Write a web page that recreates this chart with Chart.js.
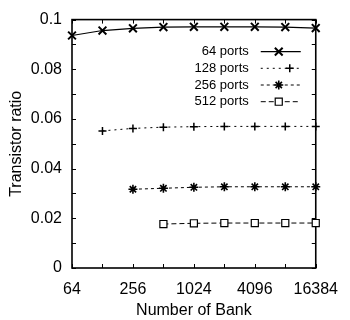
<!DOCTYPE html>
<html>
<head>
<meta charset="utf-8">
<script src="https://cdn.jsdelivr.net/npm/chart.js@4/dist/chart.umd.min.js"></script>
<style>
  html, body { margin: 0; padding: 0; background: #fff; }
  #wrap { width: 350px; height: 320px; }
</style>
</head>
<body>
<div id="wrap"><canvas id="c" width="350" height="320"></canvas></div>
<script>
// ---- data ----
const banks = [64, 128, 256, 512, 1024, 2048, 4096, 8192, 16384];
const xTickValues = [64, 256, 1024, 4096, 16384];
const seriesNames = ['64 ports', '128 ports', '256 ports', '512 ports'];
const ports64  = [0.0936, 0.0956, 0.0965, 0.0970, 0.0971, 0.0971, 0.0971, 0.0970, 0.0966];
const ports128 = [null, 0.0552, 0.0562, 0.0567, 0.0569, 0.0570, 0.0570, 0.0570, 0.0570];
const ports256 = [null, null, 0.0317, 0.0321, 0.0325, 0.0327, 0.0327, 0.0327, 0.0327];
const ports512 = [null, null, null, 0.0177, 0.0180, 0.0181, 0.0181, 0.0181, 0.0181];

const FONT = "'Liberation Sans', Arial, Helvetica, sans-serif";

function pts(arr) {
  return banks.map((b, i) => ({ x: b, y: arr[i] })).filter(p => p.y !== null);
}

const datasets = [
  { label: seriesNames[0], data: pts(ports64), borderWidth: 1.2, borderDash: [],
    pointStyle: 'crossRot', pointRadius: 5.5, pointBorderWidth: 2 },
  { label: seriesNames[1], data: pts(ports128), borderWidth: 1, borderDash: [2, 4],
    pointStyle: 'cross', pointRadius: 4, pointBorderWidth: 1.5 },
  { label: seriesNames[2], data: pts(ports256), borderWidth: 1, borderDash: [3, 3],
    pointStyle: 'star', pointRadius: 4.5, pointBorderWidth: 1.6 },
  { label: seriesNames[3], data: pts(ports512), borderWidth: 1, borderDash: [5, 3],
    pointStyle: 'rect', pointRadius: 5, pointBorderWidth: 1.2, pointBackgroundColor: '#fff' }
].map(d => Object.assign({
  borderColor: '#000', backgroundColor: '#000', pointBorderColor: '#000',
  pointBackgroundColor: d.pointBackgroundColor || '#000', fill: false, tension: 0, clip: false
}, d));

// frame, inner ticks and legend
const framePlugin = {
  id: 'frame',
  beforeDatasetsDraw(chart) {
    const { ctx, chartArea: a, scales } = chart;
    ctx.save();
    ctx.strokeStyle = '#000';
    ctx.setLineDash([]);
    ctx.lineWidth = 1;
    const tl = 4;
    for (let v = 0; v <= 0.1001; v += 0.01) {
      const y = Math.round(scales.y.getPixelForValue(v)) + 0.5;
      ctx.beginPath();
      ctx.moveTo(a.left, y); ctx.lineTo(a.left + tl, y);
      ctx.moveTo(a.right, y); ctx.lineTo(a.right - tl, y);
      ctx.stroke();
    }
    banks.forEach(b => {
      const x = Math.round(scales.x.getPixelForValue(b)) + 0.5;
      ctx.beginPath();
      ctx.moveTo(x, a.bottom); ctx.lineTo(x, a.bottom - tl);
      ctx.moveTo(x, a.top); ctx.lineTo(x, a.top + tl);
      ctx.stroke();
    });
    ctx.lineWidth = 1.6;
    ctx.strokeRect(a.left, a.top, a.right - a.left, a.bottom - a.top);
    ctx.restore();
  },
  afterDatasetsDraw(chart) {
    const { ctx, chartArea: a } = chart;
    ctx.save();
    ctx.strokeStyle = '#000';
    ctx.font = '13px ' + FONT;
    ctx.textAlign = 'right';
    ctx.textBaseline = 'middle';
    ctx.fillStyle = '#000';
    const textRight = a.right - 67;
    const lineL = a.right - 55, lineR = a.right - 15;
    chart.data.datasets.forEach((ds, i) => {
      const y = a.top + 32 + i * 16.7;
      ctx.fillStyle = '#000';
      ctx.fillText(ds.label, textRight, y);
      ctx.beginPath();
      ctx.setLineDash(ds.borderDash);
      ctx.lineWidth = ds.borderWidth;
      ctx.moveTo(lineL, y); ctx.lineTo(lineR, y);
      ctx.stroke();
      ctx.setLineDash([]);
      ctx.lineWidth = ds.pointBorderWidth;
      ctx.fillStyle = ds.pointBackgroundColor;
      const mx = ds.pointStyle === 'cross' ? lineR - 11 : (lineL + lineR) / 2 - 2;
      Chart.helpers.drawPoint(ctx, { pointStyle: ds.pointStyle, radius: ds.pointRadius, rotation: 0, borderWidth: ds.pointBorderWidth }, mx, y);
    });
    ctx.restore();
  }
};

new Chart(document.getElementById('c'), {
  type: 'line',
  data: { datasets },
  options: {
    responsive: false,
    animation: false,
    layout: { padding: { top: 14, right: 22, left: 0, bottom: 0 } },
    plugins: { legend: { display: false }, tooltip: { enabled: false } },
    scales: {
      x: {
        type: 'logarithmic',
        min: 64, max: 16384,
        afterBuildTicks: s => { s.ticks = xTickValues.map(v => ({ value: v })); },
        afterFit: s => { s.height = 52; },
        grid: { display: false, drawTicks: false },
        border: { display: false },
        ticks: { color: '#000', font: { family: FONT, size: 16 }, padding: 12,
                 maxRotation: 0, autoSkip: false, callback: v => String(v) },
        title: { display: true, text: 'Number of Bank', color: '#000',
                 font: { family: FONT, size: 16 }, padding: 0 }
      },
      y: {
        type: 'linear',
        min: 0, max: 0.1,
        afterFit: s => { s.width = 72; },
        grid: { display: false, drawTicks: false },
        border: { display: false },
        ticks: { color: '#000', font: { family: FONT, size: 16 }, padding: 10, stepSize: 0.02,
                 callback: v => (Math.abs(v) < 1e-9 ? '0' : String(+v.toFixed(2))) },
        title: { display: true, text: 'Transistor ratio', color: '#000',
                 font: { family: FONT, size: 16 }, padding: 7 }
      }
    }
  },
  plugins: [framePlugin]
});
</script>
</body>
</html>
